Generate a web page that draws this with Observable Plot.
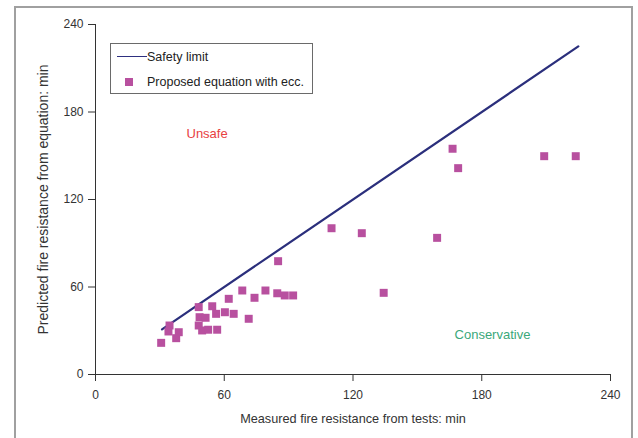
<!DOCTYPE html>
<html>
<head>
<meta charset="utf-8">
<script src="https://cdn.jsdelivr.net/npm/d3@7"></script>
<script src="https://cdn.jsdelivr.net/npm/@observablehq/plot@0.6"></script>
<style>
  html, body { margin: 0; padding: 0; background: #fff; }
  #wrap { position: relative; width: 638px; height: 438px; overflow: hidden; font-family: "Liberation Sans", Arial, sans-serif; }
  #frame { position: absolute; left: 14px; top: 6px; width: 619px; height: 460px; border: 2px solid #a0a0a0; box-sizing: border-box; }
  #chart { position: absolute; left: 0; top: 0; }
  #legend { position: absolute; left: 110px; top: 43px; width: 203px; height: 51px; border: 1.5px solid #6a6a6a; box-sizing: border-box; background: #fff; font-size: 12.5px; color: #222; }
  .row { position: absolute; left: 0; height: 14px; line-height: 14px; white-space: nowrap; }
  .row span.t { position: absolute; left: 36px; top: 0; }
  .swl { position: absolute; left: 6px; top: 6px; width: 30px; height: 0; border-top: 1.5px solid #2e3080; }
  .sws { position: absolute; left: 14px; top: 3px; width: 8px; height: 8px; background: #b8509f; }
</style>
</head>
<body>
<div id="wrap">
  <div id="frame"></div>
  <div id="chart"></div>
  <div id="legend"></div>
</div>
<script>
// Data (minutes)
const measured  = [30.6, 34.5, 34.0, 38.8, 37.6, 48.1, 48.5, 51.3, 48.1, 49.7, 52.5, 56.7, 54.4, 56.2, 60.3, 64.4, 62.1, 68.4, 71.4, 74.1, 79.2, 84.7, 88.2, 92.1, 85.1, 110.0, 124.1, 134.3, 159.2, 166.4, 169.0, 209.1, 223.8];
const predicted = [21.7, 33.6, 29.5, 29.0, 24.9, 46.2, 39.3, 38.9, 33.6, 30.2, 30.7, 30.7, 46.8, 41.6, 42.7, 41.6, 51.9, 57.6, 38.2, 52.6, 57.6, 55.7, 54.2, 54.2, 77.7, 100.3, 96.9, 56.0, 93.7, 154.8, 141.5, 149.7, 149.7];
const safetyX = [31, 225];
const safetyY = [31, 225];
const ticks = [0, 60, 120, 180, 240];
const legendLabels = ["Safety limit", "Proposed equation with ecc."];
const regionLabels = [
  {x: 52, y: 165, text: "Unsafe", color: "#e8413f"},
  {x: 185, y: 27.5, text: "Conservative", color: "#3aa87a"}
];

const points = measured.map((m, i) => ({m, p: predicted[i]}));
const safety = safetyX.map((x, i) => ({x, y: safetyY[i]}));

const chart = Plot.plot({
  width: 638,
  height: 438,
  marginLeft: 95,
  marginRight: 28,
  marginTop: 24,
  marginBottom: 64,
  style: {fontFamily: "Liberation Sans, Arial, sans-serif", fontSize: "12px", color: "#333", background: "transparent"},
  x: {domain: [0, 240], ticks: ticks},
  y: {domain: [0, 240], ticks: ticks},
  marks: [
    Plot.ruleY([0], {stroke: "#333", strokeWidth: 1}),
    Plot.ruleX([0], {stroke: "#333", strokeWidth: 1}),
    Plot.axisX({ticks: ticks, tickSize: 7, tickPadding: 9, fontSize: 12, stroke: "#333", label: null}),
    Plot.axisY({ticks: ticks, tickSize: 7, tickPadding: 5, fontSize: 12, stroke: "#333", label: null}),
    Plot.axisX({ticks: ticks, tickSize: 0, tickFormat: () => "", fontSize: 12.7,
      label: "Measured fire resistance from tests: min", labelArrow: "none", labelAnchor: "center", labelOffset: 48}),
    Plot.axisY({ticks: ticks, tickSize: 0, tickFormat: () => "", fontSize: 14,
      label: "Predicted fire resistance from equation: min", labelArrow: "none", labelAnchor: "center", labelOffset: 57}),
    Plot.line(safety, {x: "x", y: "y", stroke: "#2b2f7c", strokeWidth: 2.2}),
    Plot.dot(points, {x: "m", y: "p", symbol: "square", r: 4.5, fill: "#b8509f", stroke: "none"}),
    Plot.text(regionLabels, {x: "x", y: "y", text: "text", fill: "color", fontSize: 13})
  ]
});
document.getElementById("chart").appendChild(chart);

// Legend
const lg = document.getElementById("legend");
legendLabels.forEach((label, i) => {
  const row = document.createElement("div");
  row.className = "row";
  row.style.top = (i === 0 ? 6 : 31) + "px";
  row.style.width = "100%";
  const sw = document.createElement("div");
  sw.className = i === 0 ? "swl" : "sws";
  const t = document.createElement("span");
  t.className = "t";
  t.textContent = label;
  row.appendChild(sw);
  row.appendChild(t);
  lg.appendChild(row);
});
</script>
</body>
</html>
